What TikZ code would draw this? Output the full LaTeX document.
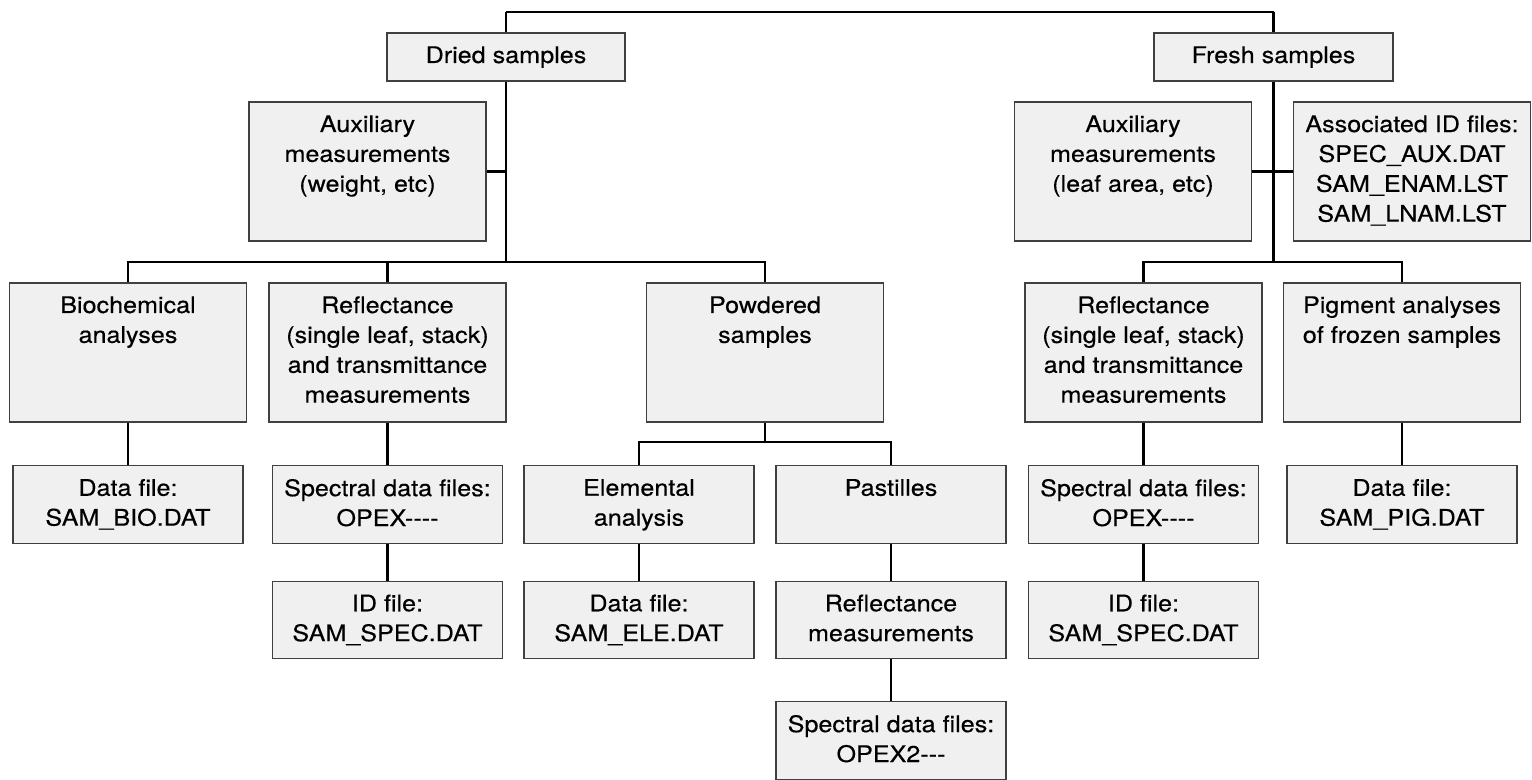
\documentclass[tikz,border=0pt]{standalone}
\usepackage{fontspec}
\setmainfont[FakeStretch=1.1,FakeBold=0.4]{TeX Gyre Heros}
\usetikzlibrary{backgrounds}
\pgfdeclarelayer{edgelayer}
\pgfdeclarelayer{nodelayer}
\pgfsetlayers{edgelayer,nodelayer,main}
\tikzset{font=\fontsize{13}{17}\selectfont}
\tikzstyle{none}=[inner sep=0pt]
\tikzstyle{box}=[rectangle,draw=black!75,fill=black!6,line width=0.6pt,inner sep=0pt]
\tikzstyle{tallbox}=[box,minimum width=4.74cm,minimum height=2.78cm]
\tikzstyle{filebox}=[box,minimum width=4.6cm,minimum height=1.55cm]
\tikzstyle{txt}=[anchor=north,align=center,inner sep=0pt,yshift=-0.27cm]
\tikzstyle{link}=[line width=1.2pt]

\begin{document}
\begin{tikzpicture}
	\useasboundingbox (0,0) rectangle (30.64,-15.6);
	\begin{pgfonlayer}{nodelayer}
		\node [style=box, minimum width=4.76cm, minimum height=0.96cm, label={[txt]north:Dried samples}] (0) at (10.12, -1.14) {};
		\node [style=box, minimum width=4.78cm, minimum height=0.96cm, label={[txt]north:Fresh samples}] (1) at (25.47, -1.14) {};
		\node [style=tallbox, label={[txt]north:Auxiliary\\measurements\\(weight, etc)}] (2) at (7.35, -3.43) {};
		\node [style=tallbox, label={[txt]north:Auxiliary\\measurements\\(leaf area, etc)}] (3) at (22.66, -3.43) {};
		\node [style=tallbox, label={[txt]north:Associated ID files:\\SPEC\_AUX.DAT\\SAM\_ENAM.LST\\SAM\_LNAM.LST}] (4) at (28.24, -3.43) {};
		\node [style=tallbox, label={[txt]north:Biochemical\\analyses}] (5) at (2.56, -7.05) {};
		\node [style=tallbox, label={[txt]north:Reflectance\\(single leaf, stack)\\and transmittance\\measurements}] (6) at (7.75, -7.05) {};
		\node [style=tallbox, label={[txt]north:Powdered\\samples}] (7) at (15.3, -7.05) {};
		\node [style=tallbox, label={[txt]north:Reflectance\\(single leaf, stack)\\and transmittance\\measurements}] (8) at (22.87, -7.05) {};
		\node [style=tallbox, label={[txt]north:Pigment analyses\\of frozen samples}] (9) at (28.04, -7.05) {};
		\node [style=filebox, label={[txt]north:Data file:\\SAM\_BIO.DAT}] (10) at (2.56, -10.09) {};
		\node [style=filebox, label={[txt]north:Spectral data files:\\OPEX{-}{-}{-}{-}}] (11) at (7.75, -10.09) {};
		\node [style=filebox, label={[txt]north:Elemental\\analysis}] (12) at (12.78, -10.09) {};
		\node [style=filebox, label={[txt]north:Pastilles}] (13) at (17.82, -10.09) {};
		\node [style=filebox, label={[txt]north:Spectral data files:\\OPEX{-}{-}{-}{-}}] (14) at (22.87, -10.09) {};
		\node [style=filebox, label={[txt]north:Data file:\\SAM\_PIG.DAT}] (15) at (28.04, -10.09) {};
		\node [style=filebox, label={[txt]north:ID file:\\SAM\_SPEC.DAT}] (16) at (7.75, -12.4) {};
		\node [style=filebox, label={[txt]north:Data file:\\SAM\_ELE.DAT}] (17) at (12.78, -12.4) {};
		\node [style=filebox, label={[txt]north:Reflectance\\measurements}] (18) at (17.82, -12.4) {};
		\node [style=filebox, label={[txt]north:ID file:\\SAM\_SPEC.DAT}] (19) at (22.87, -12.4) {};
		\node [style=filebox, label={[txt]north:Spectral data files:\\OPEX2{-}{-}{-}}] (20) at (17.82, -14.81) {};
		\node [style=none] (21) at (10.12, -0.24) {};
		\node [style=none] (22) at (25.47, -0.24) {};
		\node [style=none] (23) at (10.12, -5.24) {};
		\node [style=none] (24) at (25.47, -5.24) {};
		\node [style=none] (25) at (15.3, -8.84) {};
	\end{pgfonlayer}
	\begin{pgfonlayer}{edgelayer}
		\draw[style=link] (0) to (21.center);
		\draw[style=link] (21.center) to (22.center);
		\draw[style=link] (22.center) to (1);
		\draw[style=link] (0) to (23.center);
		\draw[style=link] (2) to (2 -| 23.center);
		\draw[style=link] (5) |- (23.center) -| (7);
		\draw[style=link] (6) to (6 |- 23.center);
		\draw[style=link] (1) to (24.center);
		\draw[style=link] (3) to (3 -| 24.center);
		\draw[style=link] (4) to (4 -| 24.center);
		\draw[style=link] (8) |- (24.center) -| (9);
		\draw[style=link] (7) to (25.center);
		\draw[style=link] (12) |- (25.center) -| (13);
		\draw[style=link] (5) to (10);
		\draw[style=link] (6) to (11);
		\draw[style=link] (11) to (16);
		\draw[style=link] (12) to (17);
		\draw[style=link] (13) to (18);
		\draw[style=link] (18) to (20);
		\draw[style=link] (8) to (14);
		\draw[style=link] (14) to (19);
		\draw[style=link] (9) to (15);
	\end{pgfonlayer}
\end{tikzpicture}
\end{document}
